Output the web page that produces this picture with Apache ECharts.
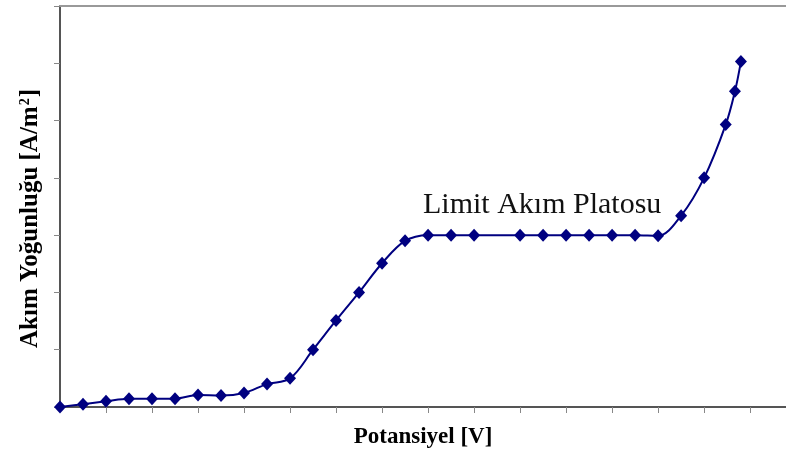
<!DOCTYPE html>
<html>
<head>
<meta charset="utf-8">
<script src="https://cdn.jsdelivr.net/npm/echarts@6/dist/echarts.min.js"></script>
<style>
  html, body { margin: 0; padding: 0; background: #fff; }
  #chart { width: 786px; height: 450px; }
</style>
</head>
<body>
<div id="chart"></div>
<script>
// potential in tick units, current density in tick units (no labels on the original)
const potential = [0, 0.5, 1, 1.5, 2, 2.5, 3, 3.5, 4, 4.5, 5, 5.5, 6, 6.5, 7, 7.5, 8, 8.5, 9,
  10, 10.5, 11, 11.5, 12, 12.5, 13, 13.5, 14, 14.47, 14.67, 14.8];
const current = [0, 0.05, 0.10, 0.145, 0.145, 0.145, 0.21, 0.20, 0.245, 0.40, 0.50,
  1.0, 1.51, 2.0, 2.51, 2.90, 3.0, 3.0, 3.0,
  3.0, 3.0, 3.0, 3.0, 3.0, 3.0, 2.99, 3.34, 4.0, 4.93, 5.51, 6.03];
const xTicks = [1, 2, 3, 4, 5, 6, 7, 8, 9, 10, 11, 12, 13, 14, 15];

const chart = echarts.init(document.getElementById("chart"));
const serif = "'Liberation Serif', 'DejaVu Serif', serif";

const option = {
  backgroundColor: "#fff",
  animation: false,
  grid: { left: 60, right: 0, top: 6, bottom: 43, outerBoundsMode: "none" },
  xAxis: [
    {
      type: "value",
      min: 0,
      max: 15.78,
      name: "Potansiyel [V]",
      nameLocation: "middle",
      nameGap: 19,
      nameTextStyle: { fontFamily: serif, fontWeight: "bold", fontSize: 23, color: "#000" },
      axisLine: { lineStyle: { color: "#555", width: 2 } },
      axisTick: { show: true, customValues: xTicks, length: 6, lineStyle: { color: "#888", width: 1 } },
      axisLabel: { show: false },
      splitLine: { show: false },
    },
    {
      type: "value",
      position: "top",
      min: 0,
      max: 15.78,
      axisLine: { show: true, lineStyle: { color: "#999", width: 2 } },
      axisTick: { show: false },
      axisLabel: { show: false },
      splitLine: { show: false },
    },
  ],
  yAxis: {
    type: "value",
    min: 0,
    max: 7,
    interval: 1,
    name: "{a|Akım Yoğunluğu [A/m}{s|2}{a|]}",
    nameLocation: "middle",
    nameGap: 17,
    nameTextStyle: {
      padding: [0, 24, 0, 0],
      rich: {
        a: { fontFamily: serif, fontWeight: "bold", fontSize: 25, color: "#000" },
        s: { fontFamily: serif, fontWeight: "bold", fontSize: 14, color: "#000", verticalAlign: "top", padding: [0, 1, 10, 1] },
      },
    },
    axisLine: { show: true, lineStyle: { color: "#555", width: 2 } },
    axisTick: { show: true, length: 6, lineStyle: { color: "#888", width: 1 } },
    axisLabel: { show: false },
    splitLine: { show: false },
  },
  graphic: [
    {
      type: "text",
      left: 423,
      top: 190,
      style: { text: "Limit Akım Platosu", font: "30px " + serif, fill: "#111" },
    },
  ],
  series: [
    {
      type: "line",
      data: potential.map((p, i) => [p, current[i]]),
      smooth: 0.35,
      symbol: "diamond",
      symbolSize: [12, 13],
      lineStyle: { color: "#000080", width: 2 },
      itemStyle: { color: "#000080" },
    },
  ],
};

chart.setOption(option);
</script>
</body>
</html>
